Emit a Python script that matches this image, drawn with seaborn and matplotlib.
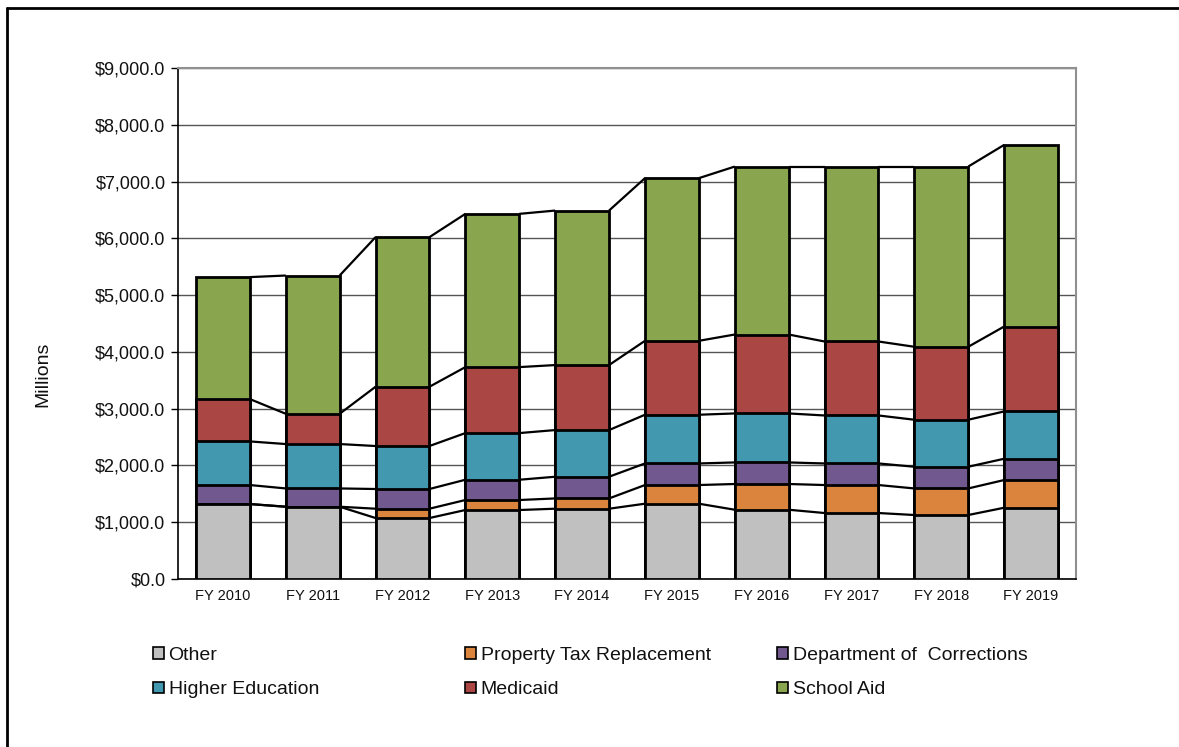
import numpy as np
import pandas as pd
import matplotlib
matplotlib.use("Agg")
import matplotlib.pyplot as plt
from matplotlib.patches import Patch
from matplotlib.lines import Line2D
from matplotlib.ticker import FuncFormatter
import seaborn as sns

# Fiscal years and spending by program ($ millions)
years = ["FY 2010", "FY 2011", "FY 2012", "FY 2013", "FY 2014",
         "FY 2015", "FY 2016", "FY 2017", "FY 2018", "FY 2019"]
other = [1320, 1273, 1074, 1215, 1238, 1326, 1220, 1162, 1127, 1255]
property_tax = [0, 0, 164, 176, 181, 329, 453, 493, 468, 488]
corrections = [335, 322, 347, 357, 382, 380, 380, 380, 382, 375]
higher_ed = [768, 782, 757, 822, 822, 858, 863, 845, 828, 833]
medicaid = [746, 533, 1044, 1162, 1145, 1302, 1390, 1303, 1285, 1496]
school_aid = [2148, 2435, 2635, 2699, 2721, 2865, 2958, 3081, 3174, 3199]

series_names = ["Other", "Property Tax Replacement", "Department of  Corrections",
                "Higher Education", "Medicaid", "School Aid"]
series_values = [other, property_tax, corrections, higher_ed, medicaid, school_aid]
colors = ["#C0C0C0", "#DB843D", "#71588F", "#4198AF", "#AA4643", "#89A54E"]

sns.set_theme(style="white")
plt.rcParams["font.family"] = ["Liberation Sans", "DejaVu Sans"]

# Cumulative tops of each stacked layer
stack = np.cumsum(np.array(series_values, dtype=float), axis=0)
df = pd.DataFrame({"year": years})
for name, top in zip(series_names, stack):
    df[name] = top

fig = plt.figure(figsize=(11.79, 7.47), dpi=100)
ax = fig.add_axes([178 / 1179, 1 - 579 / 747, 898 / 1179, 511 / 747])

bar_w = 0.6
# Draw from the tallest layer down so each lower layer sits on top
for name, color in reversed(list(zip(series_names, colors))):
    sns.barplot(data=df, x="year", y=name, color=color, saturation=1,
                width=bar_w, edgecolor="black", linewidth=2, ax=ax, zorder=3)

# Series lines joining the layer boundaries of neighbouring bars
xs = np.arange(len(years))
for top in stack:
    for i in range(len(years) - 1):
        ax.plot([xs[i] + bar_w / 2, xs[i + 1] - bar_w / 2], [top[i], top[i + 1]],
                color="black", lw=1.6, zorder=2, solid_capstyle="butt")

ax.set_xlim(-0.5, len(years) - 0.5)
ax.set_ylim(0, 9000)
ax.set_yticks(np.arange(0, 9001, 1000))
ax.yaxis.set_major_formatter(FuncFormatter(lambda v, p: f"${v:,.1f}"))
ax.grid(axis="y", color="#555555", lw=1, zorder=0)
ax.grid(axis="x", visible=False)
ax.set_axisbelow(True)

for side in ["left", "bottom"]:
    ax.spines[side].set_color("black")
    ax.spines[side].set_linewidth(1.2)
for side in ["top", "right"]:
    ax.spines[side].set_color("#909090")
    ax.spines[side].set_linewidth(1.5)

ax.tick_params(axis="y", length=5, width=1, color="black", direction="out",
               left=True, pad=4, labelsize=13, labelcolor="#111111")
ax.tick_params(axis="x", length=0, pad=7.5, labelsize=10.5, labelcolor="#111111")
ax.set_xlabel("")
ax.set_ylabel("Millions", fontsize=14, color="#111111")
ax.yaxis.set_label_coords(-0.141, 0.40)

# Legend in three columns, filled row by row
handles = [Patch(facecolor=c, edgecolor="black", linewidth=1.2) for c in colors]
columns = [[0, 3], [1, 4], [2, 5]]
col_x = [153, 465, 777]
for idx, cx in zip(columns, col_x):
    fig.legend([handles[k] for k in idx], [series_names[k] for k in idx],
               loc="upper left", bbox_to_anchor=(cx / 1179, 1 - 647 / 747),
               frameon=False, fontsize=14, handlelength=0.55, handleheight=0.55,
               handletextpad=0.25, labelspacing=0.9, borderpad=0,
               borderaxespad=0, labelcolor="#111111")

# Outer border of the chart area
fig.add_artist(Line2D([7 / 1179, 1], [1 - 8 / 747, 1 - 8 / 747],
                      transform=fig.transFigure, color="black", lw=2))
fig.add_artist(Line2D([7 / 1179, 7 / 1179], [0, 1 - 8 / 747],
                      transform=fig.transFigure, color="black", lw=2))

fig.savefig("out.png", dpi=100)
